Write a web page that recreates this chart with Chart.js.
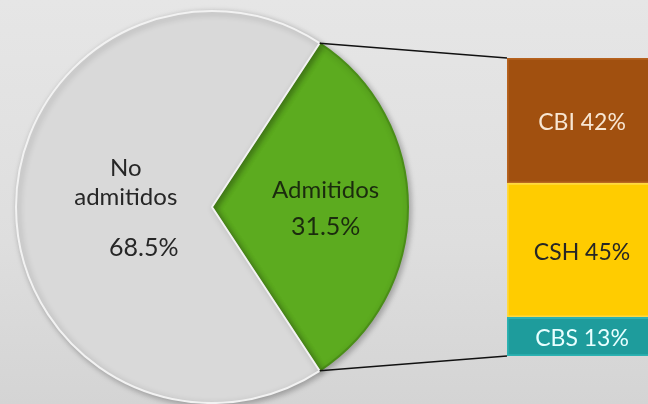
<!DOCTYPE html>
<html>
<head>
<meta charset="utf-8">
<script src="https://cdn.jsdelivr.net/npm/chart.js@4.4.1/dist/chart.umd.min.js"></script>
<style>
    html, body { margin: 0; padding: 0; width: 648px; height: 404px; overflow: hidden; }
    body { background: linear-gradient(180deg, #e6e6e6 0%, #dedede 60%, #d4d4d4 100%); position: relative; }
    #pie-chart { position: absolute; left: 2px; top: 0; }
    #bar-chart { position: absolute; left: 507px; top: 58px; }
    #connectors { position: absolute; left: 0; top: 0; pointer-events: none; }
</style>
</head>
<body>
<canvas id="pie-chart" width="420" height="404"></canvas>
<canvas id="bar-chart" width="150" height="298"></canvas>
<canvas id="connectors" width="648" height="404"></canvas>
<script>
// Pie data
const pieLabels = ['Admitidos', 'No admitidos'];
const pieValues = [31.5, 68.5];
const pieColors = ['#5cab1f', '#d9d9d9'];
const pieBorders = ['#4a8e17', '#f2f2f2'];

// Bar data (bottom to top)
const barLabels = ['CBS', 'CSH', 'CBI'];
const barValues = [13, 45, 42];
const barColors = ['#1e9c9c', '#ffcc00', '#a1500f'];
const barBorders = ['#2cb2b2', '#ffd940', '#b6621e'];
const barTextColors = ['#e8ffff', '#262626', '#f8e6d2'];

const FONT = 'Lato, "Open Sans", sans-serif';

// soft shadow under the marks, removed again before the text is drawn
const shadowPlugin = {
    id: 'softShadow',
    beforeDatasetsDraw(chart) {
        const ctx = chart.ctx;
        ctx.save();
        ctx.shadowColor = 'rgba(0, 0, 0, 0.28)';
        ctx.shadowBlur = 6;
        ctx.shadowOffsetX = 2;
        ctx.shadowOffsetY = 2;
    },
    afterDatasetsDraw(chart) {
        chart.ctx.restore();
    }
};

// Labels inside pie slices
const pieLabelPlugin = {
    id: 'pieLabels',
    afterDatasetsDraw(chart) {
        const ctx = chart.ctx;
        const arcs = chart.getDatasetMeta(0).data;
        ctx.save();
        ctx.textAlign = 'center';
        ctx.textBaseline = 'middle';
        arcs.forEach((arc, i) => {
            const mid = (arc.startAngle + arc.endAngle) / 2;
            const value = pieValues[i].toFixed(1) + '%';
            if (i === 0) {
                const cx = arc.x + Math.cos(mid) * arc.outerRadius * 0.58;
                const cy = arc.y + Math.sin(mid) * arc.outerRadius * 0.58;
                ctx.fillStyle = '#1b2b0e';
                ctx.font = '24px ' + FONT;
                ctx.fillText(pieLabels[i], cx, cy - 17);
                ctx.font = '25px ' + FONT;
                ctx.fillText(value, cx, cy + 20);
            } else {
                const cx = arc.x + Math.cos(mid) * arc.outerRadius * 0.44;
                const cy = arc.y + Math.sin(mid) * arc.outerRadius * 0.44;
                const words = pieLabels[i].split(' ');
                ctx.fillStyle = '#262626';
                ctx.font = '24px ' + FONT;
                ctx.fillText(words[0], cx, cy - 39);
                ctx.fillText(words[1], cx, cy - 10);
                ctx.font = '25px ' + FONT;
                ctx.fillText(value, cx + 18, cy + 41);
            }
        });
        ctx.restore();
    }
};

// Labels inside bar segments
const barLabelPlugin = {
    id: 'barLabels',
    afterDatasetsDraw(chart) {
        const ctx = chart.ctx;
        ctx.save();
        ctx.textAlign = 'center';
        ctx.textBaseline = 'middle';
        ctx.font = '23px ' + FONT;
        chart.data.datasets.forEach((ds, i) => {
            const bar = chart.getDatasetMeta(i).data[0];
            ctx.fillStyle = barTextColors[i];
            ctx.fillText(barLabels[i] + ' ' + barValues[i] + '%', 75, (bar.y + bar.base) / 2 + 2);
        });
        ctx.restore();
    }
};

const pieChart = new Chart(document.getElementById('pie-chart'), {
    type: 'pie',
    data: {
        labels: pieLabels,
        datasets: [{
            data: pieValues,
            backgroundColor: pieColors,
            borderColor: pieBorders,
            borderWidth: 2
        }]
    },
    options: {
        responsive: false,
        animation: false,
        rotation: 90 - pieValues[0] * 3.6 / 2,
        layout: { padding: { top: 10, bottom: 0, left: 0, right: 0 } },
        plugins: { legend: { display: false }, tooltip: { enabled: false } }
    },
    plugins: [shadowPlugin, pieLabelPlugin]
});

const barChart = new Chart(document.getElementById('bar-chart'), {
    type: 'bar',
    data: {
        labels: ['Admitidos'],
        datasets: barLabels.map((label, i) => ({
            label: label,
            data: [barValues[i]],
            backgroundColor: barColors[i],
            borderColor: barBorders[i],
            borderWidth: 2,
            borderSkipped: false,
            barPercentage: 1,
            categoryPercentage: 1
        }))
    },
    options: {
        responsive: false,
        animation: false,
        layout: { padding: 0 },
        scales: {
            x: { stacked: true, display: false },
            y: { stacked: true, display: false, min: 0, max: 100 }
        },
        plugins: { legend: { display: false }, tooltip: { enabled: false } }
    },
    plugins: [barLabelPlugin]
});

// Connector lines from the Admitidos slice to the bar
const pieCanvas = document.getElementById('pie-chart');
const barCanvas = document.getElementById('bar-chart');
const arc = pieChart.getDatasetMeta(0).data[0];
const topBar = barChart.getDatasetMeta(barLabels.length - 1).data[0];
const bottomBar = barChart.getDatasetMeta(0).data[0];
const px = pieCanvas.offsetLeft, py = pieCanvas.offsetTop;
const bx = barCanvas.offsetLeft, by = barCanvas.offsetTop;

const lineCtx = document.getElementById('connectors').getContext('2d');
lineCtx.strokeStyle = '#111111';
lineCtx.lineWidth = 1.5;
lineCtx.beginPath();
lineCtx.moveTo(px + arc.x + Math.cos(arc.startAngle) * arc.outerRadius, py + arc.y + Math.sin(arc.startAngle) * arc.outerRadius);
lineCtx.lineTo(bx + topBar.x - topBar.width / 2, by + topBar.y);
lineCtx.moveTo(px + arc.x + Math.cos(arc.endAngle) * arc.outerRadius, py + arc.y + Math.sin(arc.endAngle) * arc.outerRadius);
lineCtx.lineTo(bx + bottomBar.x - bottomBar.width / 2, by + bottomBar.base);
lineCtx.stroke();
</script>
</body>
</html>
